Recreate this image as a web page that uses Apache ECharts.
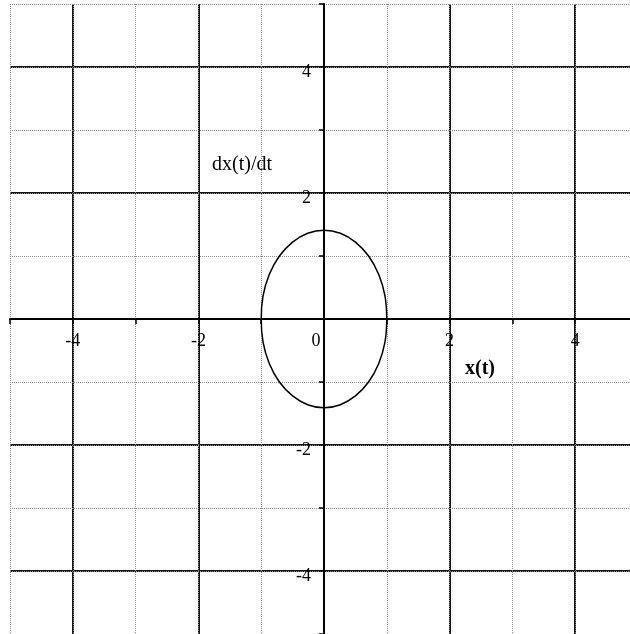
<!DOCTYPE html>
<html>
<head>
<meta charset="utf-8">
<style>
  html, body { margin: 0; padding: 0; background: #fff; }
  #chart { width: 630px; height: 634px; }
</style>
<script src="https://cdn.jsdelivr.net/npm/echarts@6/dist/echarts.min.js"></script>
</head>
<body>
<div id="chart"></div>
<script>
// Phase-plane orbit: x(t) against dx(t)/dt, sampled every 15 degrees around the closed curve
const orbitX = [1.00, 0.97, 0.87, 0.71, 0.50, 0.26, 0.00, -0.26, -0.50, -0.71, -0.87, -0.97,
                -1.00, -0.97, -0.87, -0.71, -0.50, -0.26, 0.00, 0.26, 0.50, 0.71, 0.87, 0.97, 1.00];
const orbitY = [0.00, 0.37, 0.71, 1.00, 1.22, 1.36, 1.41, 1.36, 1.22, 1.00, 0.71, 0.37,
                0.00, -0.37, -0.71, -1.00, -1.22, -1.36, -1.41, -1.36, -1.22, -1.00, -0.71, -0.37, 0.00];

// Axis extents and labelled ticks
const axisMin = -5;
const axisMax = 5;
const xTickLabels = [-4, -2, 0, 2, 4];
const yTickLabels = [-4, -2, 2, 4];

const xTitle = 'x(t)';
const yTitle = 'dx(t)/dt';

const FONT = '"Liberation Serif", "Times New Roman", serif';

// plot frame in pixels; the axes cross at the centre of the frame
const PLOT = { left: 10, top: 4, width: 628, height: 630 };

const orbit = orbitX.map((x, i) => [x, orbitY[i]]);

const chart = echarts.init(document.getElementById('chart'), null, { renderer: 'canvas' });

const minorGrid = { show: true, lineStyle: { color: '#8a8a8a', width: 1, type: [1, 1] } };
// every other integer line is a heavy line (even values; the first, at -5, is transparent)
const majorGrid = { show: true, lineStyle: { color: ['rgba(0,0,0,0)', '#151515'], width: 2 } };

const labelText = { fontFamily: FONT, fontSize: 18, color: '#000' };

chart.setOption({
  backgroundColor: '#ffffff',
  animation: false,
  grid: {
    left: PLOT.left, top: PLOT.top, width: PLOT.width, height: PLOT.height,
    containLabel: false, outerBoundsMode: 'none'
  },
  xAxis: [
    {
      type: 'value', min: axisMin, max: axisMax, interval: 1,
      position: 'bottom',
      offset: -PLOT.height / 2,
      axisLine: { onZero: false, lineStyle: { color: '#000', width: 2 } },
      axisTick: { show: true, length: 5, lineStyle: { color: '#000', width: 1.5 } },
      axisLabel: Object.assign({
        margin: 13,
        hideOverlap: false,
        formatter: v => {
          if (!xTickLabels.includes(v)) return '';
          return v === 0 ? '{z|0}' : String(v);
        },
        rich: { z: Object.assign({ padding: [0, 16, 0, 0] }, labelText) }
      }, labelText),
      splitLine: minorGrid,
      z: 3
    },
    {
      type: 'value', min: axisMin, max: axisMax, interval: 1,
      axisLine: { show: false }, axisTick: { show: false }, axisLabel: { show: false },
      splitLine: majorGrid
    }
  ],
  yAxis: [
    {
      type: 'value', min: axisMin, max: axisMax, interval: 1,
      position: 'left',
      offset: -PLOT.width / 2,
      axisLine: { onZero: false, lineStyle: { color: '#000', width: 2 } },
      axisTick: { show: true, length: 5, lineStyle: { color: '#000', width: 1.5 } },
      axisLabel: Object.assign({
        margin: 13,
        hideOverlap: false,
        // labels sit a little below their grid line
        formatter: v => (yTickLabels.includes(v) ? '{d|' + v + '}' : ''),
        rich: { d: Object.assign({ padding: [10, 0, 0, 0] }, labelText) }
      }, labelText),
      splitLine: minorGrid,
      z: 3
    },
    {
      type: 'value', min: axisMin, max: axisMax, interval: 1,
      axisLine: { show: false }, axisTick: { show: false }, axisLabel: { show: false },
      splitLine: majorGrid
    }
  ],
  graphic: [
    { type: 'text', left: 212, top: 155,
      style: { text: yTitle, fontFamily: FONT, fontSize: 20, fill: '#000' } },
    { type: 'text', left: 465, top: 359,
      style: { text: xTitle, fontFamily: FONT, fontSize: 20, fontWeight: 'bold', fill: '#000' } }
  ],
  series: [
    {
      type: 'line',
      xAxisIndex: 0, yAxisIndex: 0,
      data: orbit,
      smooth: 0.4,
      showSymbol: false,
      lineStyle: { color: '#000', width: 1.5 },
      z: 5
    }
  ]
});
</script>
</body>
</html>
